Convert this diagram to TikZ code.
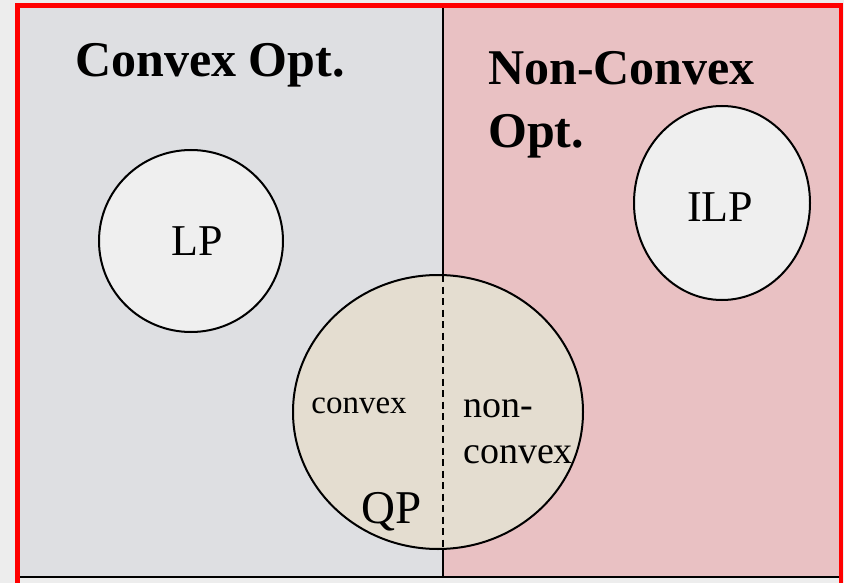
\documentclass[tikz,border=0pt]{standalone}
\usepackage{fontspec}
\setmainfont{Liberation Serif}
\usetikzlibrary{shapes.geometric}
\definecolor{outerbg}{HTML}{EDEDED}
\definecolor{marble}{HTML}{DEDFE2}
\definecolor{rose}{HTML}{E9C1C3}
\definecolor{stone}{HTML}{E4DDD0}
\definecolor{speck}{HTML}{EFEFEF}
\definecolor{frame}{HTML}{FF0000}
\tikzset{
  region/.style={ellipse, draw=black, line width=2pt, inner sep=0pt},
  title/.style={font=\fontsize{50}{60}\selectfont\bfseries, inner sep=0pt},
  label/.style={inner sep=0pt},
}
\begin{document}
\begin{tikzpicture}[x=1pt,y=-1pt]
\useasboundingbox (0,0) rectangle (844,583);
\fill[outerbg] (0,0) rectangle (844,583);
% halves
\fill[marble] (19,7) rectangle (443,577);
\fill[rose] (443,7) rectangle (840,577);
% divider and bottom line
\coordinate (dtop) at (443,7);
\coordinate (dbot) at (443,577);
\coordinate (bl) at (19,577);
\coordinate (br) at (840,577);
\draw[line width=2pt] (dtop) -- (dbot);
\draw[line width=2pt] (bl) -- (br);
% red frame
\coordinate (f1) at (17.5,583);
\coordinate (f2) at (17.5,5.5);
\coordinate (f3) at (841,5.5);
\coordinate (f4) at (841,583);
\draw[frame, line width=4.5pt] (f1) -- (f2) -- (f3) -- (f4);
% titles
\node[title, anchor=base west] (cvx) at (75,77) {Convex Opt.};
\node[title, anchor=base west] (ncvx1) at (488,85) {Non-Convex};
\node[title, anchor=base west] (ncvx2) at (488,148) {Opt.};
% circles
\node[region, fill=speck, minimum width=184pt, minimum height=182pt] (lp) at (191,241) {};
\node[region, fill=speck, minimum width=176pt, minimum height=194pt] (ilp) at (722,203) {};
\node[region, fill=stone, minimum width=290pt, minimum height=274pt] (qp) at (438,412) {};
\coordinate (qtop) at (443,275.2);
\coordinate (qbot) at (443,548.8);
\draw[line width=1.6pt, dash pattern=on 7pt off 4.5pt] (qtop) -- (qbot);
% labels
\node[label, anchor=base, font=\fontsize{44}{50}\selectfont] (lpt) at (197,255) {LP};
\node[label, anchor=base, font=\fontsize{44}{50}\selectfont] (ilpt) at (720,222) {ILP};
\node[label, anchor=base, font=\fontsize{47}{50}\selectfont] (qpt) at (392,523) {QP};
\node[label, anchor=base, font=\fontsize{33}{40}\selectfont] (cv) at (359,413) {convex};
\node[label, anchor=base west, font=\fontsize{38}{46}\selectfont] (ncv1) at (463,417) {non-};
\node[label, anchor=base west, font=\fontsize{38}{46}\selectfont] (ncv2) at (463,463) {convex};
\end{tikzpicture}
\end{document}
